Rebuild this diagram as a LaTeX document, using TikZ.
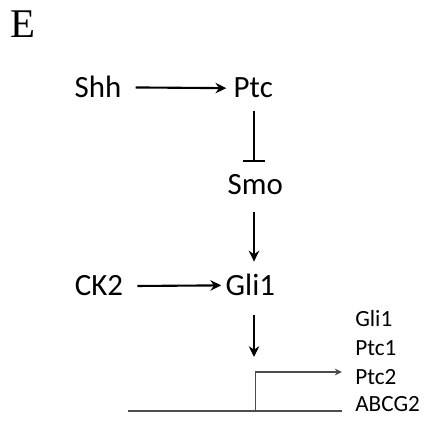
\documentclass[tikz,border=0pt]{standalone}
\usepackage{fontspec}
\setmainfont{Carlito}
\newfontfamily\panelfont{Liberation Serif}
\usepackage{tikz}
\usetikzlibrary{calc}
\usetikzlibrary{arrows.meta}

\begin{document}
\begin{tikzpicture}[
	gene/.style={anchor=base,inner sep=2pt,font=\fontsize{22}{25}\selectfont},
	target/.style={anchor=base west,inner sep=0pt,font=\fontsize{16.5}{19}\selectfont},
	act/.style={line width =1.5pt,-{Stealth[length=2.7mm,width=2.6mm]}},
	inh/.style={line width =1.5pt,-{Bar[width=5.5mm,line width=1.5pt]}},
	dna/.style={line width =1pt,draw=black!70}
]
	\useasboundingbox (0,0) rectangle (10.7,10.95);
	\node[anchor=base,inner sep=0pt,font=\fontsize{29}{32}\panelfont] (panel) at (0.58,10.0) {E};

	\node[gene] (shh) at (2.45,8.5) {Shh};
	\node[gene] (ptc) at (6.33,8.5) {Ptc};
	\node[gene] (smo) at (6.38,6.075) {Smo};
	\node[gene] (ck2) at (2.475,3.55) {CK2};
	\node[gene] (gli) at (6.26,3.55) {Gli1};

	\draw [act,shorten <=8pt,shorten >=3pt] (shh.east) -- (ptc.west);
	\draw [inh,shorten <=7pt,shorten >=7pt] (ptc.south -| 6.35,0) -- (smo.north -| 6.35,0);
	\draw [act,shorten <=10pt,shorten >=7pt] (smo.south -| 6.35,0) -- (gli.north -| 6.35,0);
	\draw [act,shorten <=8pt,shorten >=1pt] (ck2.east) -- (gli.west);

	% promoter and gene
	\coordinate (tss) at (6.38,0.675);
	\coordinate (gliend) at (6.35,2.025);
	\coordinate (dnaL) at (3.2,0.675);
	\coordinate (dnaR) at (8.55,0.675);
	\draw [act,shorten <=11pt] (gli.south -| 6.35,0) -- (gliend);
	\draw [dna] (dnaL) -- (dnaR);
	\draw [dna,-{Stealth[length=1.8mm,width=1.7mm]}] (tss) |- (8.55,1.65);

	\node[target] (t1) at (8.875,2.775) {Gli1};
	\node[target] (t2) at (8.875,2.05) {Ptc1};
	\node[target] (t3) at (8.875,1.325) {Ptc2};
	\node[target] (t4) at (8.875,0.65) {ABCG2};
\end{tikzpicture}
\end{document}
